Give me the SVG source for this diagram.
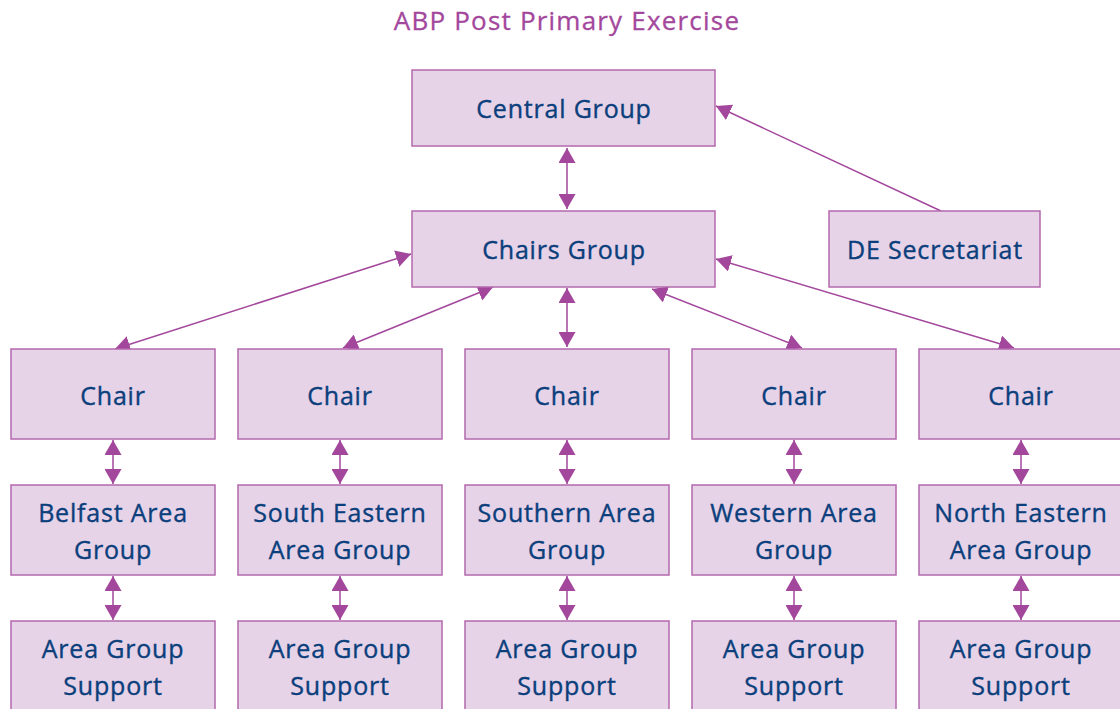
<svg xmlns="http://www.w3.org/2000/svg" width="1120" height="709" viewBox="0 0 1120 709">
<style>
.box{fill:#e7d3e8;stroke:#b468ad;stroke-width:1.5}
.t{font-family:"Open Sans","Noto Sans","Liberation Sans",sans-serif;font-size:25px;letter-spacing:0.8px;fill:#0b3f7c;stroke:#0b3f7c;stroke-width:0.4px;text-anchor:middle}
.title{font-family:"Open Sans","Noto Sans","Liberation Sans",sans-serif;font-size:26px;letter-spacing:1.2px;fill:#a3479c;stroke:#a3479c;stroke-width:0.3px;text-anchor:middle}
.c{stroke:#a3479c;stroke-width:1.5;fill:none}
</style>
<defs>
<marker id="ah" viewBox="0 0 15 17" refX="15" refY="8.5" markerWidth="15" markerHeight="17" markerUnits="userSpaceOnUse" orient="auto-start-reverse">
<path d="M0,0 L15,8.5 L0,17 Z" fill="#a3479c"/>
</marker>
</defs>
<rect width="1120" height="709" fill="#ffffff"/>
<text class="title" x="567" y="30">ABP Post Primary Exercise</text>
<g id="connectors">
<line class="c" x1="567" y1="148" x2="567" y2="209" marker-start="url(#ah)" marker-end="url(#ah)"/>
<line class="c" x1="941" y1="211" x2="716" y2="106" marker-end="url(#ah)"/>
<line class="c" x1="411" y1="254" x2="115" y2="349" marker-start="url(#ah)" marker-end="url(#ah)"/>
<line class="c" x1="493" y1="287" x2="343" y2="348" marker-start="url(#ah)" marker-end="url(#ah)"/>
<line class="c" x1="567" y1="288" x2="567" y2="347" marker-start="url(#ah)" marker-end="url(#ah)"/>
<line class="c" x1="652" y1="289" x2="802" y2="348" marker-start="url(#ah)" marker-end="url(#ah)"/>
<line class="c" x1="716" y1="259" x2="1014" y2="348" marker-start="url(#ah)" marker-end="url(#ah)"/>
<line class="c" x1="113" y1="440" x2="113" y2="484" marker-start="url(#ah)" marker-end="url(#ah)"/>
<line class="c" x1="340" y1="440" x2="340" y2="484" marker-start="url(#ah)" marker-end="url(#ah)"/>
<line class="c" x1="567" y1="440" x2="567" y2="484" marker-start="url(#ah)" marker-end="url(#ah)"/>
<line class="c" x1="794" y1="440" x2="794" y2="484" marker-start="url(#ah)" marker-end="url(#ah)"/>
<line class="c" x1="1021" y1="440" x2="1021" y2="484" marker-start="url(#ah)" marker-end="url(#ah)"/>
<line class="c" x1="113" y1="576" x2="113" y2="620" marker-start="url(#ah)" marker-end="url(#ah)"/>
<line class="c" x1="340" y1="576" x2="340" y2="620" marker-start="url(#ah)" marker-end="url(#ah)"/>
<line class="c" x1="567" y1="576" x2="567" y2="620" marker-start="url(#ah)" marker-end="url(#ah)"/>
<line class="c" x1="794" y1="576" x2="794" y2="620" marker-start="url(#ah)" marker-end="url(#ah)"/>
<line class="c" x1="1021" y1="576" x2="1021" y2="620" marker-start="url(#ah)" marker-end="url(#ah)"/>
</g>
<g id="central"><rect class="box" x="412" y="70" width="303" height="76"/><text class="t" x="564" y="118">Central Group</text></g>
<g id="chairs"><rect class="box" x="412" y="211" width="303" height="76"/><text class="t" x="564" y="259">Chairs Group</text></g>
<g id="secretariat"><rect class="box" x="829" y="211" width="211" height="76"/><text class="t" x="935" y="259">DE Secretariat</text></g>
<g id="chair1"><rect class="box" x="11" y="349" width="204" height="90"/><text class="t" x="113" y="405">Chair</text></g>
<g id="chair2"><rect class="box" x="238" y="349" width="204" height="90"/><text class="t" x="340" y="405">Chair</text></g>
<g id="chair3"><rect class="box" x="465" y="349" width="204" height="90"/><text class="t" x="567" y="405">Chair</text></g>
<g id="chair4"><rect class="box" x="692" y="349" width="204" height="90"/><text class="t" x="794" y="405">Chair</text></g>
<g id="chair5"><rect class="box" x="919" y="349" width="204" height="90"/><text class="t" x="1021" y="405">Chair</text></g>
<g id="area1"><rect class="box" x="11" y="485" width="204" height="90"/><text class="t" x="113" y="522">Belfast Area</text><text class="t" x="113" y="559">Group</text></g>
<g id="area2"><rect class="box" x="238" y="485" width="204" height="90"/><text class="t" x="340" y="522">South Eastern</text><text class="t" x="340" y="559">Area Group</text></g>
<g id="area3"><rect class="box" x="465" y="485" width="204" height="90"/><text class="t" x="567" y="522">Southern Area</text><text class="t" x="567" y="559">Group</text></g>
<g id="area4"><rect class="box" x="692" y="485" width="204" height="90"/><text class="t" x="794" y="522">Western Area</text><text class="t" x="794" y="559">Group</text></g>
<g id="area5"><rect class="box" x="919" y="485" width="204" height="90"/><text class="t" x="1021" y="522">North Eastern</text><text class="t" x="1021" y="559">Area Group</text></g>
<g id="support1"><rect class="box" x="11" y="621" width="204" height="100"/><text class="t" x="113" y="658">Area Group</text><text class="t" x="113" y="695">Support</text></g>
<g id="support2"><rect class="box" x="238" y="621" width="204" height="100"/><text class="t" x="340" y="658">Area Group</text><text class="t" x="340" y="695">Support</text></g>
<g id="support3"><rect class="box" x="465" y="621" width="204" height="100"/><text class="t" x="567" y="658">Area Group</text><text class="t" x="567" y="695">Support</text></g>
<g id="support4"><rect class="box" x="692" y="621" width="204" height="100"/><text class="t" x="794" y="658">Area Group</text><text class="t" x="794" y="695">Support</text></g>
<g id="support5"><rect class="box" x="919" y="621" width="204" height="100"/><text class="t" x="1021" y="658">Area Group</text><text class="t" x="1021" y="695">Support</text></g>
</svg>
